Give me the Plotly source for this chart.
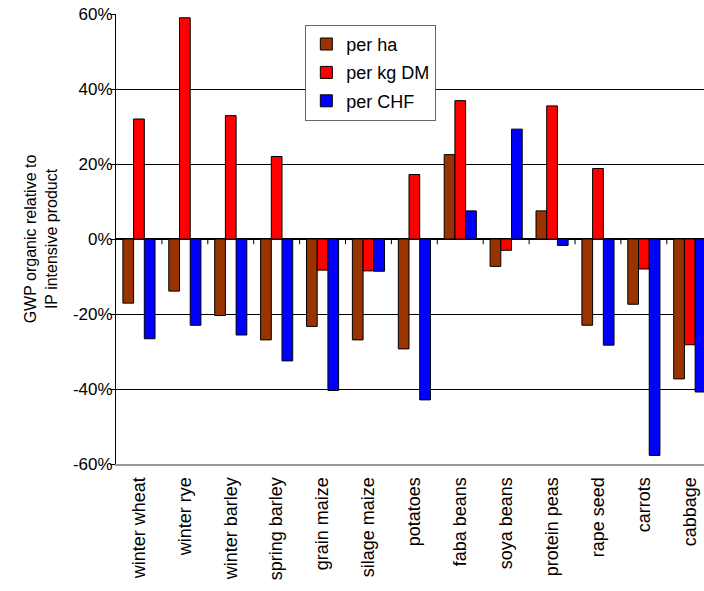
import plotly.graph_objects as go

# Crops compared (organic vs. IP intensive)
crops = ["winter wheat", "winter rye", "winter barley", "spring barley",
         "grain maize", "silage maize", "potatoes", "faba beans",
         "soya beans", "protein peas", "rape seed", "carrots", "cabbage"]

# Relative GWP difference, in percent
per_ha = [-17.1, -13.9, -20.4, -26.9, -23.3, -26.9, -29.3, 22.5, -7.3, 7.5, -23.0, -17.4, -37.3]
per_kg_dm = [32.0, 59.0, 32.9, 22.0, -8.3, -8.5, 17.2, 36.9, -3.0, 35.5, 18.8, -8.0, -28.2]
per_chf = [-26.6, -23.0, -25.6, -32.5, -40.4, -8.6, -42.9, 7.5, 29.3, -1.7, -28.3, -57.7, -40.8]

series = [
    ("per ha", per_ha, "#993300"),
    ("per kg DM", per_kg_dm, "#FF0000"),
    ("per CHF", per_chf, "#0000FF"),
]

FONT = "Arial, 'Liberation Sans', sans-serif"

fig = go.Figure()
for name, vals, color in series:
    fig.add_trace(go.Bar(
        x=crops, y=vals, name=name, legendgroup=name,
        marker=dict(color=color, line=dict(color="#000000", width=1)),
    ))

# small category tick marks hanging below the zero line
for k in range(len(crops) - 1):
    fig.add_shape(type="line", xref="x", yref="y",
                  x0=k + 0.5, x1=k + 0.5, y0=0, y1=-1.4,
                  line=dict(color="#000000", width=1), layer="above")

fig.update_layout(
    width=704, height=591,
    margin=dict(l=116, r=0, t=14, b=127),
    paper_bgcolor="white", plot_bgcolor="white",
    font=dict(family=FONT, size=18, color="#000000"),
    barmode="group", bargap=0.3, bargroupgap=0,
    showlegend=True,
    legend=dict(
        x=0.322, y=0.976, xanchor="left", yanchor="top",
        bgcolor="white", bordercolor="#666666", borderwidth=1,
        font=dict(family=FONT, size=18),
        traceorder="grouped", tracegroupgap=2,
    ),
)

fig.update_xaxes(
    range=[-0.5, len(crops) - 0.69],
    tickangle=-90, showgrid=False, ticks="",
    showline=True, linecolor="#999999", linewidth=2,
    tickfont=dict(family=FONT, size=18),
    ticklabelstandoff=4,
)

fig.update_yaxes(
    range=[-60, 60], tickvals=[-60, -40, -20, 0, 20, 40, 60],
    ticktext=["-60%", "-40%", "-20%", "0%", "20%", "40%", "60%"],
    showgrid=True, gridcolor="#000000", gridwidth=1,
    zeroline=True, zerolinecolor="#000000", zerolinewidth=2,
    showline=True, linecolor="#000000", linewidth=1,
    ticks="outside", ticklen=5, tickcolor="#000000",
    tickfont=dict(family=FONT, size=17),
    ticklabelstandoff=-6,
    title=dict(text="GWP organic relative to<br>IP intensive product",
               font=dict(family=FONT, size=16), standoff=11),
)

fig.write_html("out.html")
